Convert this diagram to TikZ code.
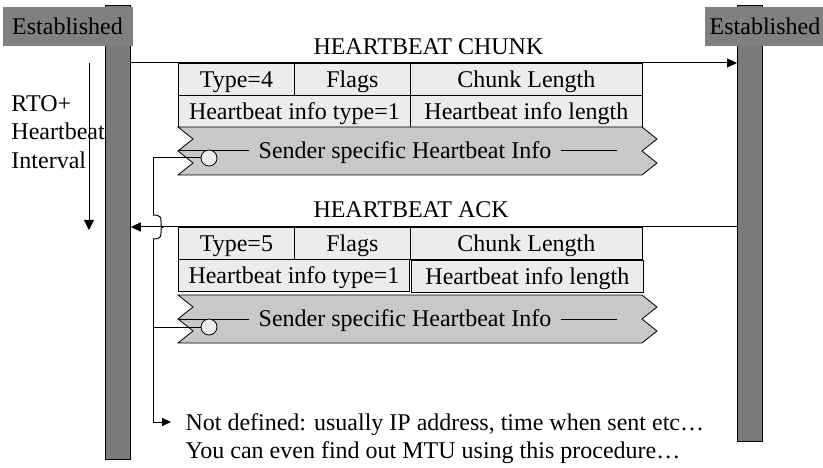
\documentclass[tikz,border=0pt]{standalone}
\usepackage{fontspec}
\setmainfont{Liberation Serif}
\usetikzlibrary{arrows.meta,calc}
\definecolor{barfill}{HTML}{7A7A7A}
\definecolor{labfill}{HTML}{808080}
\definecolor{cellfill}{HTML}{ECECEC}
\definecolor{chevfill}{HTML}{C8C8C8}
\begin{document}
\begin{tikzpicture}[x=1pt,y=-1pt,
  every node/.style={inner sep=0pt},
  font=\fontsize{24}{28}\selectfont,
  line width=1pt,
  lifeline/.style={draw=black, line width=0.8pt, fill=barfill, minimum width=25pt, anchor=north west},
  hostbox/.style={fill=labfill, minimum height=39pt, text height=16pt, text depth=0pt, anchor=north west},
  cell/.style={draw=black, line width=0.8pt, fill=cellfill, minimum height=32pt, text height=15.5pt, text depth=0pt, anchor=north west},
  chev/.style={draw=black, line width=0.8pt, fill=chevfill},
  infotext/.style={fill=chevfill, inner xsep=9pt, text height=15.5pt, text depth=0pt},
  port/.style={circle, draw=black, line width=0.8pt, fill=cellfill, minimum size=16pt},
  msg/.style={-{Triangle[length=10pt,width=9pt]}},
  timer/.style={-{Triangle[length=10pt,width=10pt]}},
  small tip/.style={-{Triangle[length=9pt,width=8pt]}},
  note/.style={anchor=base west},
]
\useasboundingbox (0,0) rectangle (823,468);

% title tail peeking in at the top edge
\node[note, font=\bfseries\fontsize{40}{40}\selectfont] (ttl) at (431,-8) {y};

% lifelines and host labels
\node[lifeline, minimum height=454pt] (lbar) at (105,5) {};
\node[lifeline, minimum height=436pt] (rbar) at (737,5) {};
\node[hostbox, minimum width=130pt] (lhost) at (2,7) {Established};
\node[hostbox, minimum width=121pt] (rhost) at (704,7) {Established};

% RTO + heartbeat interval timer
\coordinate (rtoS) at (89,63);
\coordinate (rtoE) at (89,230);
\draw[timer] (rtoS) -- (rtoE);
\node[note] (rto1) at (11,112) {RTO+};
\node[note] (rto2) at (11,140) {Heartbeat};
\node[note] (rto3) at (11,169) {Interval};

% messages
\coordinate (chunkA) at ($(lbar.north east)+(0,58)$);
\draw[msg] (chunkA) -- (chunkA -| rbar.west);
\node[note] (chunkL) at (313,55) {HEARTBEAT CHUNK};

\coordinate (ackA) at ($(rbar.north west)+(0,222)$);
\draw[msg] (ackA) -- (ackA -| lbar.east);
\node[note] (ackL) at (313,218) {HEARTBEAT ACK};

% HEARTBEAT chunk fields
\node[cell, minimum width=116pt] (t1) at (178,63) {Type=4};
\node[cell, minimum width=116pt] (f1) at (294,63) {Flags};
\node[cell, minimum width=232pt] (l1) at (410,63) {Chunk Length};
\node[cell, minimum width=232pt] (it1) at (178,95) {Heartbeat info type=1};
\node[cell, minimum width=232pt] (il1) at (410,95) {Heartbeat info length};
\draw[chev] (178,127) -- (642,127) -- (657,139) -- (642,151) -- (657,163) -- (642,175)
  -- (178,175) -- (193,163) -- (178,151) -- (193,139) -- cycle;
\coordinate (m1l) at (178,151);
\coordinate (m1r) at (617,151);
\node[infotext] (info1) at (405,151) {Sender specific Heartbeat Info};
\draw (m1l) -- (info1.west);
\draw (info1.east) -- (m1r);

% HEARTBEAT ACK fields
\node[cell, minimum width=116pt] (t2) at (178,227) {Type=5};
\node[cell, minimum width=116pt] (f2) at (294,227) {Flags};
\node[cell, minimum width=232pt] (l2) at (410,227) {Chunk Length};
\node[cell, minimum width=231pt] (it2) at (178,259) {Heartbeat info type=1};
\node[cell, minimum width=232pt] (il2) at (411,260) {Heartbeat info length};
\draw[chev] (178,295) -- (642,295) -- (657,307) -- (642,319) -- (657,331) -- (642,343)
  -- (178,343) -- (193,331) -- (178,319) -- (193,307) -- cycle;
\coordinate (m2l) at (178,319);
\coordinate (m2r) at (617,319);
\node[infotext] (info2) at (405,319) {Sender specific Heartbeat Info};
\draw (m2l) -- (info2.west);
\draw (info2.east) -- (m2r);

% explanatory note
\node[note] (note1) at (185,430) {Not defined: usually IP address, time when sent etc…};
\node[note] (note2) at (185,458) {You can even find out MTU using this procedure…};
\coordinate (noteIn) at ($(note1.base west)+(-14,-8)$);

% info ports and the line tying them to the note
\node[port] (port1) at (209,158) {};
\node[port] (port2) at (209,327) {};
\coordinate (spine) at (153,0);
\coordinate (hop) at (ackA -| spine);
\begin{scope}[shift={(hop)}]
  \coordinate (hopT) at (0,-12);
  \coordinate (hopB) at (0,12);
  \draw (0,-12) .. controls (7,-12) and (8,-10) .. (8,-6) -- (8,-3)
    .. controls (8,-1) .. (10,0) .. controls (8,1) .. (8,3) -- (8,6)
    .. controls (8,10) and (7,12) .. (0,12);
\end{scope}
\draw (port1.west) -- (port1.west -| spine) -- (hopT);
\draw[small tip] (hopB) -- (hopB |- noteIn) -- (noteIn);
\draw (port2.west) -- (port2.west -| spine);
\end{tikzpicture}
\end{document}
